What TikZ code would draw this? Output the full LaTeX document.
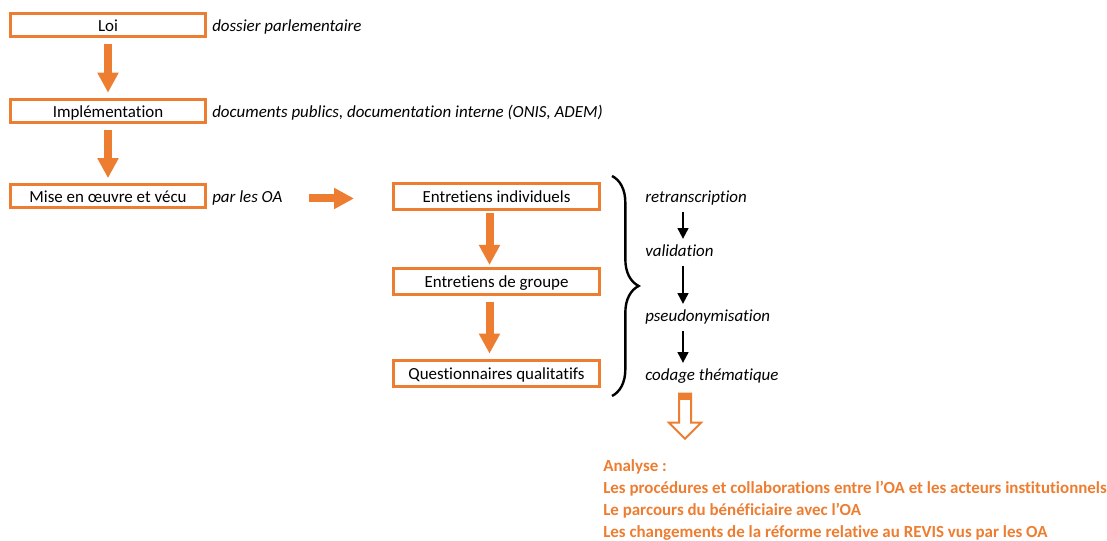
\documentclass[tikz,border=0pt]{standalone}
\usepackage{fontspec}
\setmainfont[Ligatures=NoCommon]{Carlito}
\usepackage{tikz}
\usetikzlibrary{positioning,arrows.meta,decorations.pathreplacing}
\definecolor{oaorange}{RGB}{237,125,49}

\begin{document}
\begin{tikzpicture}[x=0.75pt,y=-0.75pt,
    font=\fontsize{12.7pt}{15.5pt}\selectfont,
    stage/.style={draw=oaorange, line width=2.25pt, minimum width=146.25pt, minimum height=17.25pt, inner sep=0pt, text height=10pt, text depth=1pt},
    task/.style={stage, minimum width=154.5pt, minimum height=19.5pt},
    source/.style={font=\fontsize{12.7pt}{15.5pt}\selectfont\itshape, inner sep=0pt, text height=9pt, text depth=3pt},
    result/.style={font=\fontsize{12.7pt}{16.5pt}\selectfont\bfseries, text=oaorange, align=left, inner sep=0pt},
    fat/.style={draw=oaorange, line width=6pt, -{Triangle[width=15pt,length=15pt]}, shorten <=4.5pt, shorten >=4pt},
    tinyarrow/.style={line width=1.5pt, -{Triangle[width=8pt,length=8pt]}, shorten <=4pt, shorten >=4pt}]
      \useasboundingbox (0,0) rectangle (1107,540);

      \node [stage] (loi) at (108,25) {Loi};
      \node [stage, below=45pt of loi] (impl) {Implémentation};
      \node [stage, below=44.6pt of impl] (mise) {Mise en œuvre et vécu};
      \node [source, right=3.75pt of loi.base east, anchor=base west] (dossier) {dossier parlementaire};
      \node [source, right=3.75pt of impl.base east, anchor=base west] (docs) {documents publics, documentation interne (ONIS, ADEM)};
      \node [source, right=3.75pt of mise.base east, anchor=base west] (parOA) {par les OA};

      \node [task, right=138.75pt of mise] (indiv) {Entretiens individuels};
      \node [task, below=42pt of indiv] (groupe) {Entretiens de groupe};
      \node [task, below=47.25pt of groupe] (quest) {Questionnaires qualitatifs};

      \node [source, right=33pt of indiv.base east, anchor=base west] (retr) {retranscription};
      \node [source, below=40.5pt of retr.base west, anchor=base west] (valid) {validation};
      \node [source, below=48.75pt of valid.base west, anchor=base west] (pseudo) {pseudonymisation};
      \node [source, below=44.25pt of pseudo.base west, anchor=base west] (codage) {codage thématique};

      \node [result, anchor=north west] (analyse) at (603,459) {Analyse :\\Les procédures et collaborations entre l’OA et les acteurs institutionnels\\Le parcours du bénéficiaire avec l’OA\\Les changements de la réforme relative au REVIS vus par les OA};

      \draw [fat] (loi.south) -- (impl.north);
      \draw [fat] (impl.south) -- (mise.north);
      \draw [fat, shorten <=20pt, shorten >=28.5pt] (parOA.east) -- (parOA.east -| indiv.west);
      \draw [fat, shorten <=1.5pt, shorten >=1.5pt] ([xshift=-5.25pt]indiv.south) -- ([xshift=-5.25pt]groupe.north);
      \draw [fat] ([xshift=-5.25pt]groupe.south) -- ([xshift=-5.25pt]quest.north);

      \coordinate (btop) at ([xshift=8.25pt,yshift=4.5pt]indiv.north east);
      \coordinate (bbot) at ([xshift=8.25pt,yshift=-6pt]quest.south east);
      \draw [decorate, decoration={brace, amplitude=20pt}, line width=1.8pt] (btop) -- (bbot);

      \draw [tinyarrow] ([xshift=28.5pt]retr.south west) -- ([xshift=28.5pt]valid.north west);
      \draw [tinyarrow] ([xshift=28.5pt]valid.south west) -- ([xshift=28.5pt]pseudo.north west);
      \draw [tinyarrow] ([xshift=28.5pt]pseudo.south west) -- ([xshift=28.5pt]codage.north west);

      \coordinate (hollow) at ([xshift=30pt,yshift=-6.75pt]codage.south west);
      \draw [draw=oaorange, line width=1.5pt, line join=miter] (hollow) ++(-6,0) -- ++(0,29) -- ++(-10,0) -- ++(16,16) -- ++(16,-16) -- ++(-10,0) -- ++(0,-29) -- cycle;
      \fill [oaorange] (hollow) ++(-6,0) rectangle ++(12,6);
\end{tikzpicture}
\end{document}
